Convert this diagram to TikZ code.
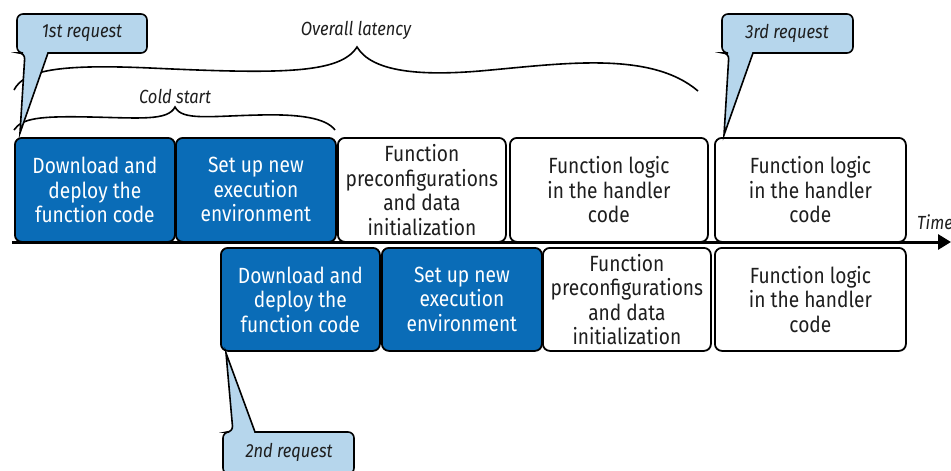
\documentclass[tikz,border=0pt]{standalone}
\usepackage{fontspec}
\setmainfont{Fira Sans}[FakeStretch=0.87]
\usetikzlibrary{arrows.meta}
\definecolor{stepblue}{HTML}{0A6CB7}
\definecolor{callblue}{HTML}{B6D6EC}
\definecolor{ink}{HTML}{1E1E1E}
\begin{document}
\begin{tikzpicture}[x=1pt,y=-1pt,
  box/.style={draw=black, line width=1.8pt, rounded corners=7pt, align=center,
    inner sep=0pt, anchor=north west, font=\fontsize{22}{24.5}\selectfont},
  bluebox/.style={box, fill=stepblue, text=white},
  whitebox/.style={box, fill=white, text=ink},
  callout/.style={draw=black, line width=1.6pt, fill=callblue},
  calltext/.style={font=\fontsize{19}{22}\selectfont\itshape, text=ink, inner sep=0pt},
  bracelbl/.style={font=\fontsize{19}{22}\selectfont\itshape, text=ink, inner sep=0pt},
  brace/.style={draw=black, line width=1.6pt},
]
\useasboundingbox (0,0) rectangle (951,471);

% first invocation (cold start)
\node[bluebox, minimum width=160, minimum height=104] (a1) at (14,137)
  {Download and\\deploy the\\function code};
\node[bluebox, minimum width=160, minimum height=104] (a2) at (175,137)
  {Set up new\\execution\\environment};
\node[whitebox, minimum width=168, minimum height=104] (a3) at (337,137)
  {Function\\preconfigurations\\and data\\initialization};
\node[whitebox, minimum width=198, minimum height=104] (a4) at (509,137)
  {Function logic\\in the handler\\code};
% third invocation reuses the warm environment
\node[whitebox, minimum width=191, minimum height=104] (a5) at (714,137)
  {Function logic\\in the handler\\code};

% second invocation, running concurrently
\node[bluebox, minimum width=159, minimum height=103] (b1) at (220,247)
  {Download and\\deploy the\\function code};
\node[bluebox, minimum width=160, minimum height=103] (b2) at (381,247)
  {Set up new\\execution\\environment};
\node[whitebox, minimum width=168, minimum height=103] (b3) at (542,247)
  {Function\\preconfigurations\\and data\\initialization};
\node[whitebox, minimum width=191, minimum height=103] (b4) at (714,247)
  {Function logic\\in the handler\\code};

% time axis
\coordinate (t0) at (12,242);
\coordinate (t1) at (951,242);
\draw[line width=3pt, -{Triangle[length=13pt,width=15pt]}] (t0) -- (t1);
\node[font=\fontsize{19}{22}\selectfont\itshape, text=ink, anchor=west, inner sep=0pt] (time) at (917,222) {Time};

% braces
\draw[brace] (14,90) .. controls (24,70) and (60,64) .. (150,68)
  .. controls (280,74) and (340,74) .. (357,47)
  .. controls (372,72) and (420,76) .. (480,71)
  .. controls (560,64) and (650,50) .. (698,91);
\node[bracelbl] (overall) at (356,30) {Overall latency};

\draw[brace] (14,130) .. controls (22,118) and (40,116) .. (90,117)
  .. controls (140,118) and (168,121) .. (175,107)
  .. controls (182,121) and (210,116) .. (260,115)
  .. controls (300,114) and (326,118) .. (335,130);
\node[bracelbl] (cold) at (175,96) {Cold start};

% request callouts
\draw[callout] (17,40) [rounded corners=6pt] -- (17,53) -- (25,53) [sharp corners] -- (20,133)
  -- (48,53) [rounded corners=6pt] -- (147,53) -- (147,14) -- (17,14) -- cycle;
\node[calltext] (r1) at (82,33) {1st request};

\draw[callout] (722,40) [rounded corners=6pt] -- (722,53) -- (729,53) [sharp corners] -- (724,135)
  -- (753,53) [rounded corners=6pt] -- (853,53) -- (853,14) -- (722,14) -- cycle;
\node[calltext] (r3) at (787,33) {3rd request};

\draw[callout] (223,450) [rounded corners=6pt] -- (223,432) -- (233,432) [sharp corners] -- (226,353)
  -- (255,432) [rounded corners=6pt] -- (354,432) -- (354,474) -- (223,474) -- cycle;
\node[calltext] (r2) at (289,452) {2nd request};
\end{tikzpicture}
\end{document}
